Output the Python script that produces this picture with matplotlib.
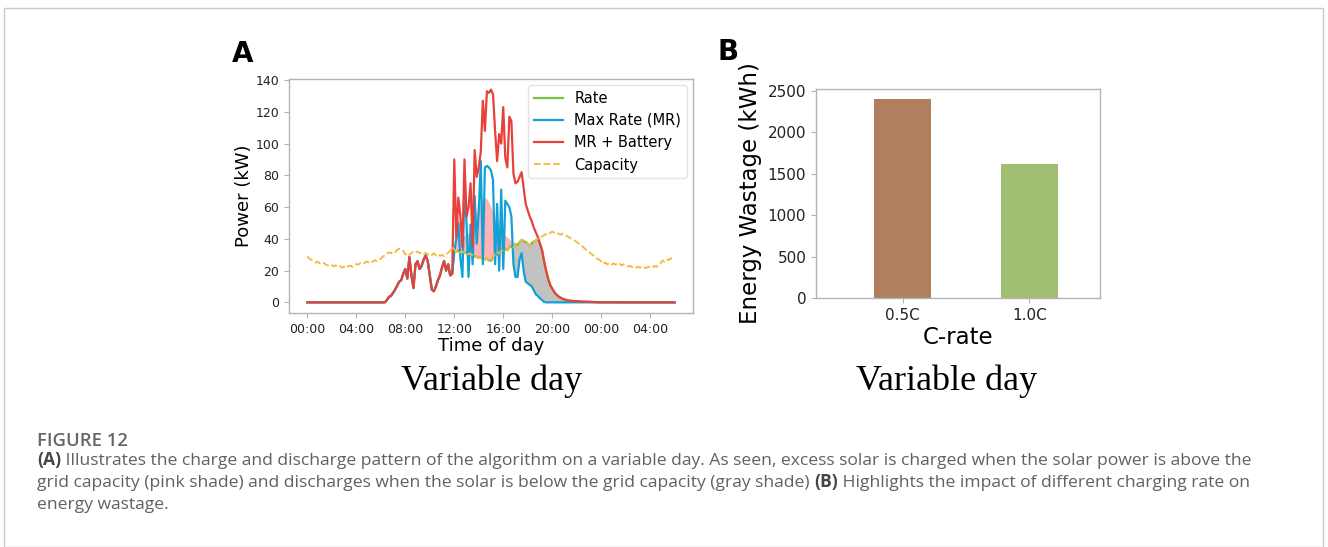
import numpy as np
import matplotlib.pyplot as plt
from matplotlib.patches import Rectangle

W, H = 1328, 547

# time grid: 10 minute steps from 00:00 to 06:00 next day
t = np.arange(181) / 6.0
time_ticks = [0, 4, 8, 12, 16, 20, 24, 28]
time_labels = ['00:00', '04:00', '08:00', '12:00', '16:00', '20:00', '00:00', '04:00']

# MR + Battery (kW)
mr_battery = ([0.0] * 39 +
              [1.5, 3.5, 4, 6, 8, 10.5, 13, 14, 18, 21, 15, 28.5, 17, 9, 24, 26, 21,
               23, 27, 29.5, 26, 17, 8, 7, 10, 14, 17, 22, 26, 20, 24, 17, 18] +
              [90, 41, 66, 54, 35, 90, 54, 60, 75, 35, 96, 79, 85, 95, 127, 108, 133,
               132, 134, 131, 108, 89, 106, 100, 123, 91, 85, 117, 114, 81] +
              [75, 76, 79, 82, 72, 62, 58, 54, 51, 47, 44, 41, 37, 33, 26, 20, 15, 11,
               8.6, 6.5, 5, 3.8, 3, 2.3, 1.8, 1.5, 1.2, 1.0, 0.9, 0.8, 0.7, 0.6, 0.5,
               0.45, 0.4, 0.35, 0.3, 0.25, 0.2, 0.2, 0.15, 0.1] +
              [0.1, 0.1, 0.08, 0.08, 0.06, 0.06, 0.05, 0.04, 0.03, 0.02, 0.01, 0.0] +
              [0.0] * 25)

# Max Rate (MR) from 12:00 to 19:30, same as MR + Battery before noon
max_rate_mid = [32, 40, 50, 28, 16, 74, 50, 16, 49, 24, 67, 37, 58, 89, 24, 85, 86,
                85, 83, 77, 24, 62, 20, 71, 21, 64, 62, 60, 54, 24,
                16, 16, 27, 31, 20, 13, 12, 11, 10, 7.5, 5, 4, 2.5, 1.5, 0.3, 0]
max_rate = mr_battery[:72] + max_rate_mid + [0.0] * 63

# grid capacity (kW)
capacity = [29.0, 27.5, 26.8, 25.9, 25.0, 25.6,
            24.6, 24.1, 24.9, 23.8, 23.2, 24.0,
            23.5, 22.7, 23.4, 22.4, 22.9, 21.8,
            22.5, 21.6, 22.8, 23.1, 22.4, 23.6,
            24.2, 23.7, 24.9, 25.3, 24.6, 25.8,
            25.2, 26.1, 25.5, 26.6, 26.0, 27.1,
            27.4, 28.9, 29.6, 30.8, 31.5, 30.9,
            32.2, 31.6, 33.0, 33.9, 33.2, 32.4,
            30.1, 31.2, 29.8, 31.0, 32.3, 31.5,
            32.0, 30.9, 31.6, 30.4, 31.2, 30.0,
            30.6, 29.8, 30.9, 29.6, 30.4, 29.3,
            29.9, 29.0, 30.2, 31.3, 32.6, 34.8,
            33.2, 32.0, 32.6, 31.5, 32.2, 31.0,
            31.4, 30.2, 30.8, 29.6, 29.0, 28.6,
            28.0, 28.4, 27.3, 26.9, 27.5, 26.4,
            26.2, 28.0, 30.6, 30.1, 31.4, 32.2,
            33.0, 33.7, 32.8, 34.6, 35.3, 34.5,
            36.9, 36.2, 37.8, 39.4, 38.6, 38.0,
            36.9, 35.8, 37.4, 38.3, 39.0, 40.2,
            40.8, 41.6, 42.2, 43.0, 42.5, 43.8,
            44.6, 43.9, 44.2, 43.4, 42.6, 43.3,
            42.8, 41.9, 41.2, 40.5, 39.7, 39.0,
            38.0, 37.2, 36.1, 35.0, 33.9, 32.7,
            32.0, 30.6, 29.8, 28.5, 27.6, 26.9,
            25.8, 24.3, 25.1, 23.9, 24.7, 23.6,
            24.5, 23.8, 24.9, 24.3, 23.2, 24.0,
            23.4, 22.6, 23.1, 22.2, 22.8, 21.9,
            22.5, 21.8, 22.6, 22.0, 21.6, 22.4,
            22.2, 21.7, 22.9, 22.3, 23.6, 24.4,
            26.4, 25.6, 27.1, 26.5, 27.8, 27.2,
            27.9]

# Rate follows the capacity while the solar is above it
rate = mr_battery[:72] + capacity[72:114] + mr_battery[114:]

# top of the pink (charging) shade, 12:00 to 16:50
charge_top = [35, 58, 52, 46, 43, 42, 42, 44, 47, 50, 54, 58, 61, 64, 66, 66, 65,
              63, 60, 56, 52, 49, 46, 44, 43, 42, 41, 40, 38, 36]

# panel B
c_rates = ['0.5C', '1.0C']
wastage = [2400, 1620]
bar_colors = ['#b07f5f', '#a1bf72']

mr_battery = np.array(mr_battery)
max_rate = np.array(max_rate)
capacity = np.array(capacity)
rate = np.array(rate)


def px_ax(fig, left, top, right, bottom):
    return fig.add_axes([left / W, 1 - bottom / H, (right - left) / W, (bottom - top) / H])


def style_spines(ax):
    for s in ax.spines.values():
        s.set_color('#b4b4b4')
        s.set_linewidth(1.0)
    ax.tick_params(color='#b4b4b4', labelcolor='#222222')


fig = plt.figure(figsize=(W / 100, H / 100), dpi=100)

# outer frame
fig.patches.append(Rectangle((4 / W, 0), 1318.5 / W, 1 - 8 / H, transform=fig.transFigure,
                             fill=False, edgecolor='#c8c8c8', lw=1.0))

# ---- panel A ----
ax = px_ax(fig, 289, 79, 693, 313)
ax.fill_between(t[72:102], rate[72:102], charge_top, color='#ffb3b3', lw=0)
ax.fill_between(t[101:], max_rate[101:], rate[101:], where=rate[101:] > max_rate[101:],
                color='#c2c2c2', lw=0)
ax.plot(t, rate, color='#78c142', lw=1.6, label='Rate')
ax.plot(t, max_rate, color='#12a1d6', lw=1.6, label='Max Rate (MR)')
ax.plot(t, mr_battery, color='#e8413b', lw=1.6, label='MR + Battery')
ax.plot(t, capacity, color='#f6b83c', lw=1.3, ls='--', label='Capacity')
ax.set_xticks(time_ticks)
ax.set_xticklabels(time_labels)
ax.tick_params(labelsize=9)
ax.set_xlabel('Time of day', fontsize=13, labelpad=1)
ax.set_ylabel('Power (kW)', fontsize=13, labelpad=2)
style_spines(ax)
leg = ax.legend(loc='upper right', fontsize=10.5, frameon=True, borderaxespad=0.4)
leg.get_frame().set_edgecolor('#dddddd')

# ---- panel B ----
bx = px_ax(fig, 816, 89, 1100, 298)
bx.bar(range(len(c_rates)), wastage, width=0.45, color=bar_colors)
bx.set_xticks(range(len(c_rates)))
bx.set_xticklabels(c_rates)
bx.set_xlim(-0.685, 1.557)
bx.tick_params(labelsize=11)
bx.set_xlabel('C-rate', fontsize=16.5, labelpad=2)
bx.set_ylabel('Energy Wastage (kWh)', fontsize=16.5)
style_spines(bx)

# panel letters and subtitles
fig.text(232 / W, 1 - 62 / H, 'A', fontsize=20, fontweight='bold', va='baseline')
fig.text(718 / W, 1 - 60 / H, 'B', fontsize=20, fontweight='bold', va='baseline')
for cx in (492, 947):
    fig.text(cx / W, 1 - 390 / H, 'Variable day', fontsize=26, family='Liberation Serif',
             ha='center', va='baseline')

# caption
cap_font = ['Open Sans', 'DejaVu Sans']
fig.text(37 / W, 1 - 446.5 / H, 'FIGURE 12', fontsize=13.3, family=cap_font,
         fontweight='semibold', color='#666666', va='baseline')

renderer = fig.canvas.get_renderer()


def caption_line(parts, y_px):
    x = 37
    for txt, bold in parts:
        tx = fig.text(x / W, 1 - y_px / H, txt, fontsize=12.6, family=cap_font,
                      fontweight='bold' if bold else 'normal',
                      color='#454545' if bold else '#616161', va='baseline')
        x = tx.get_window_extent(renderer).x1


caption_line([('(A)', True),
              (' Illustrates the charge and discharge pattern of the algorithm on a variable day. '
               'As seen, excess solar is charged when the solar power is above the', False)], 465)
caption_line([('grid capacity (pink shade) and discharges when the solar is below the grid '
               'capacity (gray shade) ', False), ('(B)', True),
              (' Highlights the impact of different charging rate on', False)], 487)
caption_line([('energy wastage.', False)], 509)

fig.savefig('out.png', dpi=100)
